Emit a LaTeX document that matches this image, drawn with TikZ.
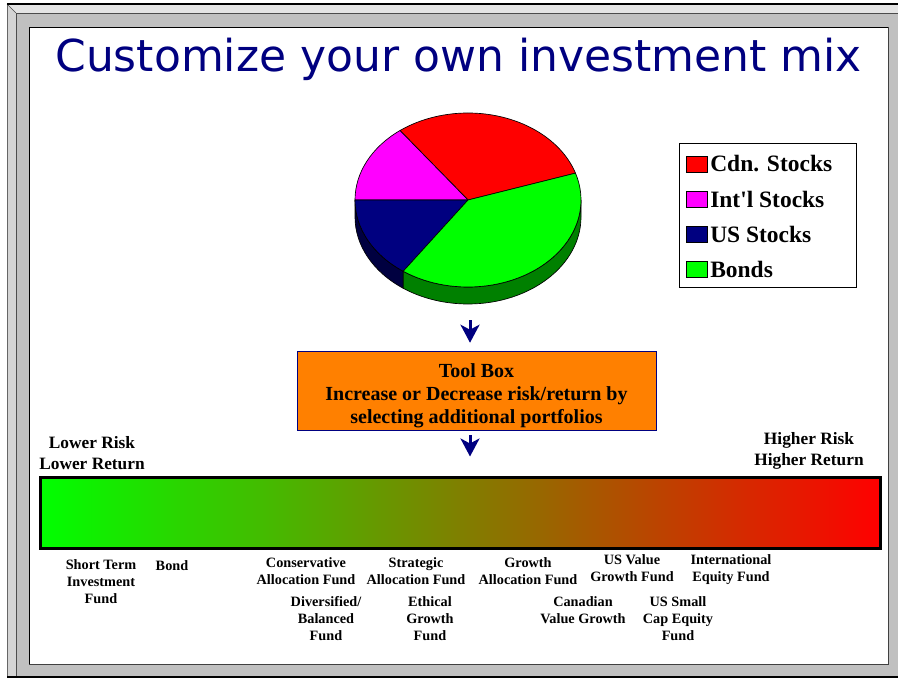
\documentclass[tikz,border=0pt]{standalone}
\usepackage{fontspec}
\setmainfont{Liberation Serif}
\newfontfamily\titlefont{DejaVu Sans}
\usetikzlibrary{arrows.meta}
\definecolor{navyBlue}{HTML}{000080}
\definecolor{usDark}{HTML}{000040}
\definecolor{bondDark}{HTML}{008000}
\definecolor{intlPink}{HTML}{FF00FF}
\definecolor{toolOrange}{HTML}{FF8000}
\definecolor{frameGray}{HTML}{C0C0C0}
\definecolor{frameLight}{HTML}{D4D4D4}
\definecolor{frameLighter}{HTML}{E4E4E4}
\begin{document}
\begin{tikzpicture}[x=0.75pt,y=0.75pt,
    titleNode/.style={anchor=base,inner sep=0pt,text=navyBlue,
      font=\titlefont\fontsize{33}{40}\selectfont},
    pieSlice/.style={draw=black,line width=0.5pt},
    legendNode/.style={anchor=west,inner sep=0pt,
      font=\bfseries\fontsize{17.6}{20}\selectfont},
    swatchNode/.style={draw=black,line width=0.6pt,minimum width=15.75pt,
      minimum height=12pt,inner sep=0pt},
    toolNode/.style={draw=navyBlue,fill=toolOrange,
      minimum width=269.25pt,minimum height=59.25pt,inner sep=0pt},
    toolText/.style={align=center,inner sep=0pt,
      font=\bfseries\fontsize{15}{17.25}\selectfont},
    flowArrow/.style={draw=navyBlue,line width=2.25pt,
      -{Stealth[length=13.5pt,width=14.25pt,inset=3.75pt]}},
    riskNode/.style={align=center,inner sep=0pt,
      font=\bfseries\fontsize{13}{15.75}\selectfont},
    barNode/.style={draw=black,line width=2.25pt,left color=green,
      right color=red,minimum width=630pt,minimum height=53.25pt,inner sep=0pt},
    fundNode/.style={align=center,anchor=north,inner sep=0pt,
      font=\bfseries\fontsize{10.7}{12.75}\selectfont}]
  \useasboundingbox (0,0) rectangle (898,679);
  % frame
  \fill[white] (0,0) rectangle (898,679);
  \fill[frameGray] (7,2) rectangle (898,675);
  \fill[frameLight] (7,2) -- (7,675) -- (16,666) -- (16,2) -- cycle;
  \fill[frameLighter] (7,675) -- (898,675) -- (898,666) -- (16,666) -- cycle;
  \draw[black!70] (16,2) -- (16,666) -- (898,666);
  \draw[black!70] (7,675) -- (16,666);
  \draw[black!60] (7,675) -- (7,2);
  \draw[black,line width=1pt] (7,675) -- (898,675);
  \draw[black,line width=1pt] (7,2) -- (898,2);
  \filldraw[fill=white,draw=black] (29,15) rectangle (888,652);
  \draw[black!75] (888,652) -- (888,15) -- (29,15);

  \node[titleNode] (title) at (458.5,607) {Customize your own investment mix};

  % pie
  \begin{scope}[shift={(468,479)}]
    \filldraw[pieSlice,fill=usDark] (180:113 and 87)
      arc[start angle=180,end angle=235,x radius=113,y radius=87]
      -- ++(0,-17) arc[start angle=235,end angle=180,x radius=113,y radius=87] -- cycle;
    \filldraw[pieSlice,fill=bondDark] (235:113 and 87)
      arc[start angle=235,end angle=360,x radius=113,y radius=87]
      -- ++(0,-17) arc[start angle=360,end angle=235,x radius=113,y radius=87] -- cycle;
    \filldraw[pieSlice,fill=red] (0,0) -- (18:113 and 87)
      arc[start angle=18,end angle=127,x radius=113,y radius=87] -- cycle;
    \filldraw[pieSlice,fill=intlPink] (0,0) -- (127:113 and 87)
      arc[start angle=127,end angle=180,x radius=113,y radius=87] -- cycle;
    \filldraw[pieSlice,fill=navyBlue] (0,0) -- (180:113 and 87)
      arc[start angle=180,end angle=235,x radius=113,y radius=87] -- cycle;
    \filldraw[pieSlice,fill=green] (0,0) -- (235:113 and 87)
      arc[start angle=235,end angle=378,x radius=113,y radius=87] -- cycle;
  \end{scope}

  % legend
  \node[draw=black,line width=0.6pt,minimum width=132.75pt,minimum height=108pt,
    inner sep=0pt] (legendBox) at (767.5,464) {};
  \foreach \name/\col [count=\i] in {Cdn. Stocks/red,Int\textquotesingle l Stocks/intlPink,
      US Stocks/navyBlue,Bonds/green} {
    \node[swatchNode,fill=\col] (swatch\i) at (696.5,515-35.3*\i+35.3) {};
    \node[legendNode] (legend\i) at (710,515-35.3*\i+35.3) {\name};
  }

  % tool box
  \node[toolNode] (tool) at (476.5,288.5) {};
  \node[toolText] (toolLabel) at (476.5,283.5)
    {Tool Box\\Increase or Decrease risk/return by\\selecting additional portfolios};
  \coordinate (arrowOne) at (470,359);
  \draw[flowArrow,shorten >=6pt] (arrowOne) -- (arrowOne |- tool.north);

  % risk bar
  \node[barNode] (riskBar) at (460,166.5) {};
  \draw[flowArrow,shorten <=3.75pt,shorten >=14.25pt]
    (arrowOne |- tool.south) -- (arrowOne |- riskBar.north);
  \node[riskNode] (lowRisk) at (92,226) {Lower Risk\\Lower Return};
  \node[riskNode] (highRisk) at (809,228) {Higher Risk\\Higher Return};

  % funds
  \node[fundNode] (shortTerm) at (101,120) {Short Term\\Investment\\Fund};
  \node[fundNode] (bond) at (172,119) {Bond};
  \node[fundNode] (conservative) at (306,122) {Conservative\\Allocation Fund};
  \node[fundNode] (strategic) at (416,122) {Strategic\\Allocation Fund};
  \node[fundNode] (growth) at (528,122) {Growth\\Allocation Fund};
  \node[fundNode] (usValue) at (632,125) {US Value\\Growth Fund};
  \node[fundNode] (international) at (731,125) {International\\Equity Fund};
  \node[fundNode] (diversified) at (326,83) {Diversified/\\Balanced\\Fund};
  \node[fundNode] (ethical) at (430,83) {Ethical\\Growth\\Fund};
  \node[fundNode] (canadian) at (583,83) {Canadian\\Value Growth};
  \node[fundNode] (usSmall) at (678,83) {US Small\\Cap Equity\\Fund};
\end{tikzpicture}
\end{document}
